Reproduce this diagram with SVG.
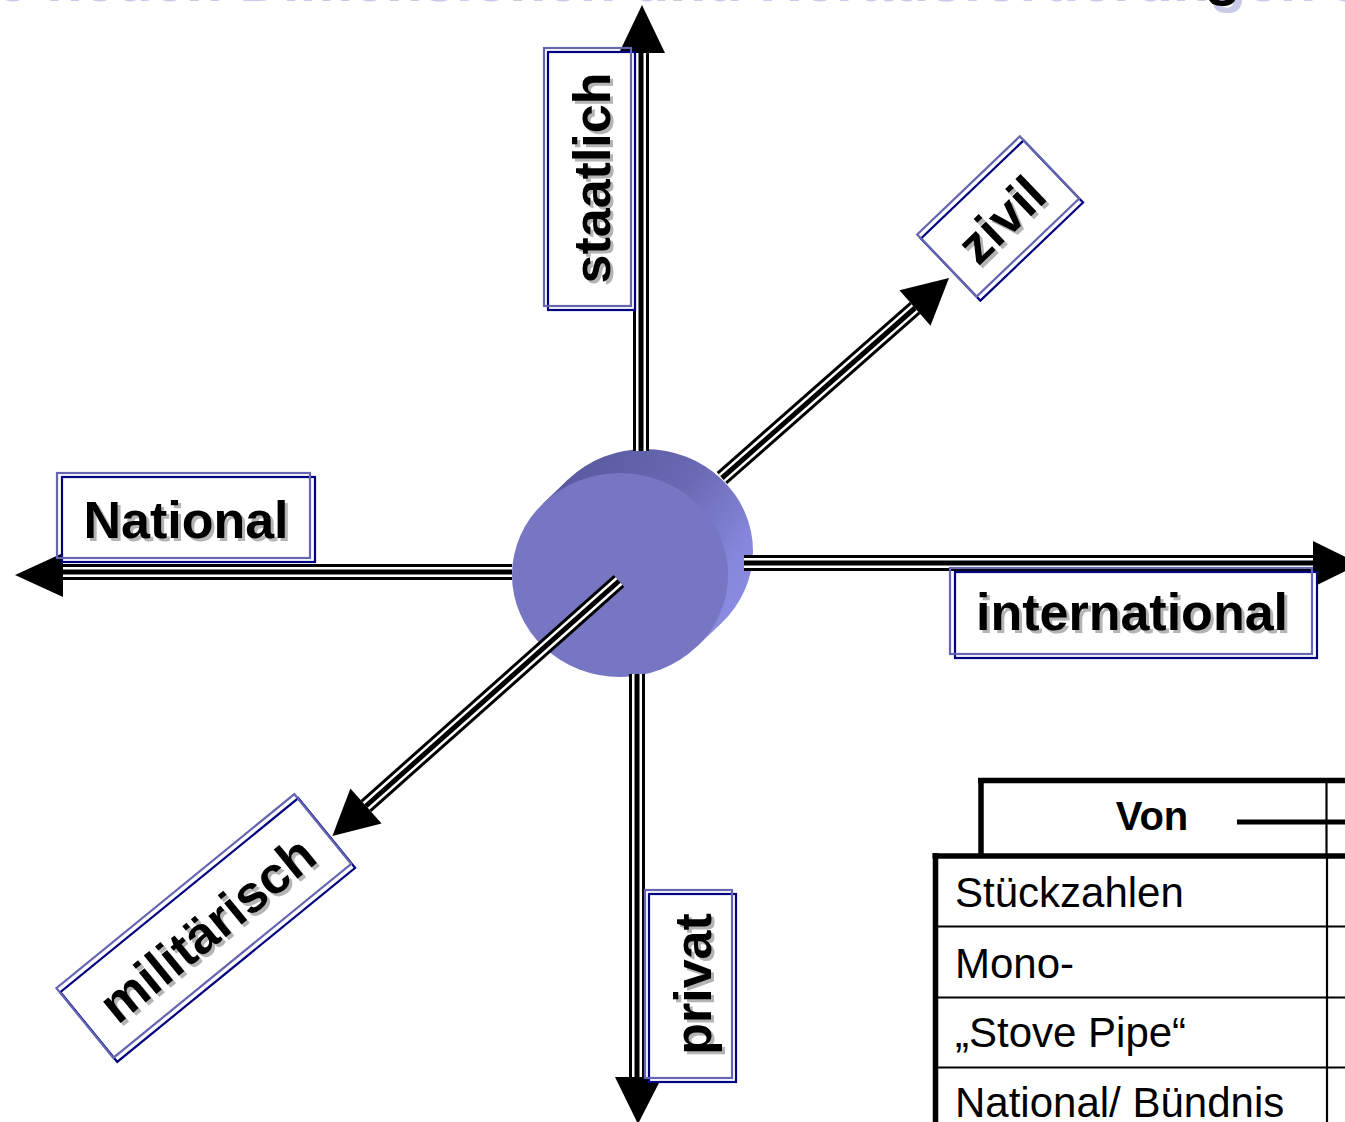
<svg xmlns="http://www.w3.org/2000/svg" width="1345" height="1122" viewBox="0 0 1345 1122">
  <style>
    .ttl{font-family:"Liberation Sans",Arial,sans-serif;font-weight:bold;font-size:60px}
    .lbl{font-family:"Liberation Sans",Arial,sans-serif;font-weight:bold;font-size:52px;text-anchor:middle}
    .shd{fill:#B4B4B4}
    .box{fill:#fff;stroke:#000080;stroke-width:2.2}
    .box2{fill:none;stroke:#6565B2;stroke-width:2.2}
    .o{fill:none;stroke:#000;stroke-width:16}
    .w{fill:none;stroke:#fff;stroke-width:10}
    .i{fill:none;stroke:#000;stroke-width:5}
    .head{fill:#000}
    .thick{stroke:#000;stroke-width:5.5;fill:none}
    .thin{stroke:#000;stroke-width:2.2;fill:none}
    .cell{font-family:"Liberation Sans",Arial,sans-serif;font-size:42px}
    .cellb{font-family:"Liberation Sans",Arial,sans-serif;font-size:40px;font-weight:bold;text-anchor:middle}
  </style>
  <defs>
    <linearGradient id="sideGrad" gradientUnits="userSpaceOnUse" x1="575" y1="465" x2="760" y2="600">
      <stop offset="0" stop-color="#5A5AA2"/>
      <stop offset="0.45" stop-color="#6A6AB4"/>
      <stop offset="0.8" stop-color="#8686DC"/>
      <stop offset="1" stop-color="#8C8CE4"/>
    </linearGradient>
    <!-- axis centre lines, stroked three times for the thin-thick-thin rule -->
    <path id="axUp" d="M641,52 V451"/>
    <path id="axDown" d="M637,674 V1078"/>
    <path id="axLeft" d="M62,572 H512"/>
    <path id="axRight" d="M744,563 H1314"/>
    <path id="axNE" d="M722,478 L915,308"/>
    <path id="axSW" d="M619,581 L366,806"/>
  </defs>

  <rect width="1345" height="1122" fill="#fff"/>

  <!-- slide title, mostly above the visible area -->
  <g id="title">
    <text class="ttl" x="-64" y="1" fill="#C9C9EA">Die neuen Dimensionen und Herausforderungen an</text>
    <text class="ttl" x="-69" y="-6" fill="#000">Die neuen Dimensionen und Herausforderungen an</text>
  </g>

  <!-- central cylinder -->
  <g id="hub">
    <ellipse cx="645" cy="551" rx="108" ry="102" fill="url(#sideGrad)"/>
    <polygon points="543,503.5 568,479.5 722,622.5 697,646.5" fill="url(#sideGrad)"/>
    <ellipse cx="620" cy="575" rx="108" ry="102" fill="#7676C2"/>
  </g>

  <g id="connectors">
    <g id="axis-staatlich">
      <use href="#axUp" class="o"/><use href="#axUp" class="w"/><use href="#axUp" class="i"/>
      <polygon class="head" points="642,5 665,53 619,53"/>
    </g>
    <g id="axis-privat">
      <use href="#axDown" class="o"/><use href="#axDown" class="w"/><use href="#axDown" class="i"/>
      <polygon class="head" points="638,1124 615,1077 662,1077"/>
    </g>
    <g id="axis-national">
      <use href="#axLeft" class="o"/><use href="#axLeft" class="w"/><use href="#axLeft" class="i"/>
      <polygon class="head" points="15,575 63,553 63,597"/>
    </g>
    <g id="axis-international">
      <use href="#axRight" class="o"/><use href="#axRight" class="w"/><use href="#axRight" class="i"/>
      <polygon class="head" points="1360,564 1313,541 1313,587"/>
    </g>
    <g id="axis-zivil">
      <use href="#axNE" class="o"/><use href="#axNE" class="w"/><use href="#axNE" class="i"/>
      <polygon class="head" points="949,278 899.5,290.3 930.5,325.7"/>
    </g>
    <g id="axis-militaerisch">
      <use href="#axSW" class="o"/><use href="#axSW" class="w"/><use href="#axSW" class="i"/>
      <polygon class="head" points="332.4,835.9 350.4,788.4 381.6,823.6"/>
    </g>
  </g>

  <!-- axis labels -->
  <g id="label-national">
    <rect class="box" x="62" y="477" width="253" height="85"/>
    <rect class="box2" x="57" y="473" width="253" height="85"/>
    <text class="lbl shd" x="189" y="541">National</text>
    <text class="lbl" x="186" y="538">National</text>
  </g>

  <g id="label-international">
    <rect class="box" x="955" y="572" width="362" height="86"/>
    <rect class="box2" x="950" y="568" width="362" height="86"/>
    <text class="lbl shd" x="1135" y="633">international</text>
    <text class="lbl" x="1132" y="630">international</text>
  </g>

  <g id="label-staatlich">
    <rect class="box" x="548" y="52" width="87" height="258"/>
    <rect class="box2" x="544" y="48" width="87" height="258"/>
    <text class="lbl shd" transform="translate(613,181) rotate(-90)">staatlich</text>
    <text class="lbl" transform="translate(610,178) rotate(-90)">staatlich</text>
  </g>

  <g id="label-privat">
    <rect class="box" x="649" y="894" width="87" height="188"/>
    <rect class="box2" x="645" y="890" width="87" height="188"/>
    <text class="lbl shd" transform="translate(714,987) rotate(-90)">privat</text>
    <text class="lbl" transform="translate(711,984) rotate(-90)">privat</text>
  </g>

  <g id="label-zivil" transform="translate(1002,220.5) rotate(-43.7)">
    <rect class="box" x="-71" y="-43" width="142" height="86"/>
    <rect class="box2" x="-71" y="-48.5" width="142" height="86"/>
    <text class="lbl shd" x="0.1" y="21.2">zivil</text>
    <text class="lbl" x="0" y="17">zivil</text>
  </g>

  <g id="label-militaerisch" transform="translate(207.75,930) rotate(-39.2)">
    <rect class="box" x="-153.5" y="-45" width="307" height="90"/>
    <rect class="box2" x="-154" y="-50.6" width="307" height="90"/>
    <text class="lbl shd" x="0.4" y="21.2">militärisch</text>
    <text class="lbl" x="0" y="17">militärisch</text>
  </g>

  <!-- comparison table, cut at the right and bottom edges -->
  <g id="table">
    <line class="thick" x1="981" y1="778" x2="981" y2="857"/>
    <line class="thick" x1="978" y1="780.5" x2="1345" y2="780.5"/>
    <line class="thin" x1="1326.5" y1="780" x2="1326.5" y2="856"/>
    <text class="cellb" x="1152" y="830">Von</text>
    <line x1="1237" y1="822" x2="1345" y2="822" stroke="#000" stroke-width="5"/>

    <line class="thick" x1="932.5" y1="856" x2="1345" y2="856"/>
    <line class="thick" x1="935.5" y1="853" x2="935.5" y2="1122"/>
    <line class="thin" x1="1327" y1="856" x2="1327" y2="1122"/>
    <line class="thin" x1="935" y1="926.5" x2="1345" y2="926.5"/>
    <line class="thin" x1="935" y1="997.5" x2="1345" y2="997.5"/>
    <line class="thin" x1="935" y1="1067.5" x2="1345" y2="1067.5"/>
    <text class="cell" x="955" y="907">Stückzahlen</text>
    <text class="cell" x="955" y="978">Mono-</text>
    <text class="cell" x="955" y="1047">„Stove Pipe“</text>
    <text class="cell" x="955" y="1117">National/ Bündnis</text>
  </g>
</svg>
